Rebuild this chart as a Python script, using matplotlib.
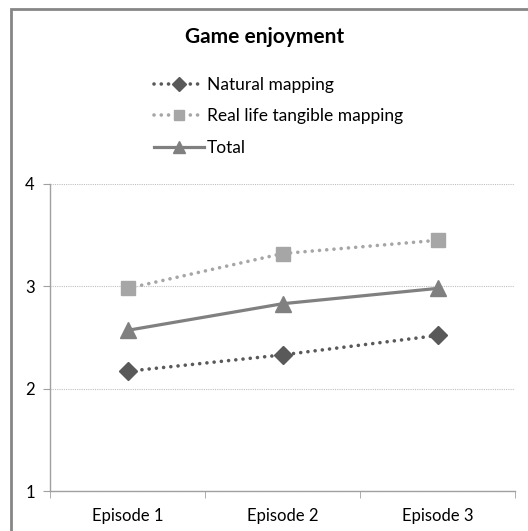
import matplotlib.pyplot as plt
from matplotlib.patches import Rectangle

plt.rcParams['font.family'] = ['Lato', 'DejaVu Sans']

episodes = ['Episode 1', 'Episode 2', 'Episode 3']
natural = [2.17, 2.33, 2.52]
real_life = [2.98, 3.32, 3.45]
total = [2.57, 2.83, 2.98]

fig = plt.figure(figsize=(5.28, 5.31), dpi=100)
ax = fig.add_axes([50/528, 40/531, 465/528, 307/531])

x = range(len(episodes))
dots = (0, (0.01, 2.0))
ax.plot(x, natural, color='#595959', linestyle=dots, linewidth=2.6,
        dash_capstyle='round', marker='D', markersize=9, label='Natural mapping')
ax.plot(x, real_life, color='#A6A6A6', linestyle=dots, linewidth=2.6,
        dash_capstyle='round', marker='s', markersize=10,
        label='Real life tangible mapping')
ax.plot(x, total, color='#808080', linestyle='-', linewidth=2.3,
        marker='^', markersize=11, label='Total')

ax.set_xlim(-0.5, 2.5)
ax.set_ylim(1, 4)
ax.set_yticks([1, 2, 3, 4])
ax.set_xticks([0, 1, 2])
ax.set_xticklabels(episodes, fontsize=12)
ax.set_xticks([-0.5, 0.5, 1.5, 2.5], minor=True)
ax.tick_params(axis='x', which='major', length=0, pad=12)
ax.tick_params(axis='x', which='minor', length=5, color='#A0A0A0')
ax.tick_params(axis='y', length=5, color='#A0A0A0', labelsize=12, pad=6)
ax.grid(axis='y', color='#C0C0C0', linestyle=(0, (1, 1)), linewidth=0.8)
ax.set_axisbelow(True)
for s in ['top', 'right']:
    ax.spines[s].set_visible(False)
for s in ['left', 'bottom']:
    ax.spines[s].set_color('#A0A0A0')
    ax.spines[s].set_linewidth(1)

fig.text(265/528, 1 - 37/531, 'Game enjoyment', ha='center', va='center',
         fontsize=15, fontweight='bold')
fig.legend(loc='upper left', bbox_to_anchor=(138/528, 1 - 61/531), frameon=False,
           fontsize=12.5, labelspacing=0.9, handlelength=2.9, handletextpad=0.15,
           markerscale=0.75)

# chart border
fig.patches.append(Rectangle((11/528, -0.05), 1.1, 1 - 9/531 + 0.05,
                             transform=fig.transFigure, fill=False,
                             edgecolor='#868686', linewidth=2))

fig.savefig('out.png', dpi=100)
